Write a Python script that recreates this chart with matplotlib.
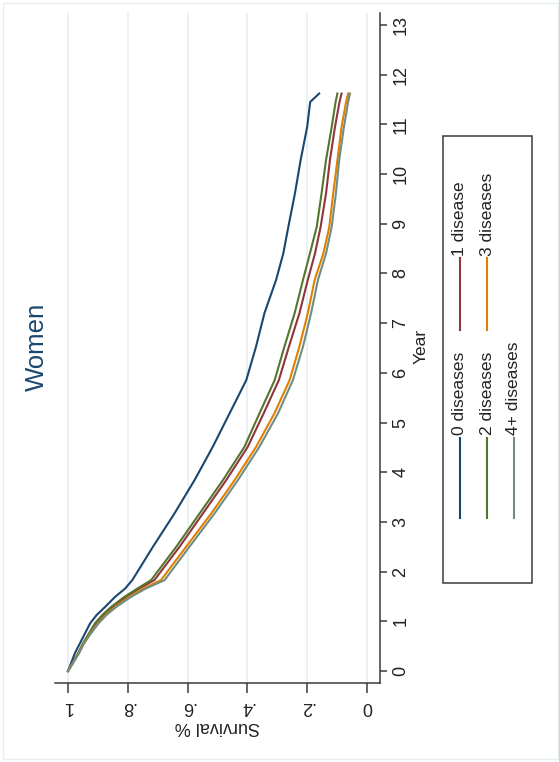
import matplotlib
matplotlib.use("Agg")
import matplotlib.pyplot as plt
from matplotlib.patches import Rectangle
from matplotlib.lines import Line2D

plt.rcParams["font.family"] = ["Liberation Sans", "DejaVu Sans"]

# Kaplan-Meier survival estimates by number of chronic diseases
years = [0, 0.36, 0.56, 0.76, 0.96, 1.13, 1.29, 1.49, 1.66, 1.83, 2.50, 3.17, 3.84, 4.51,
         5.18, 5.85, 6.53, 7.20, 7.87, 8.40, 8.94, 9.61, 10.28, 10.95, 11.45, 11.62]
surv_0 = [1.0, 0.977, 0.960, 0.943, 0.926, 0.904, 0.876, 0.843, 0.809, 0.785, 0.716, 0.644,
          0.577, 0.516, 0.460, 0.404, 0.371, 0.343, 0.304, 0.280, 0.263, 0.241, 0.222,
          0.200, 0.190, 0.160]
surv_1 = [1.0, 0.965, 0.948, 0.927, 0.905, 0.880, 0.850, 0.806, 0.762, 0.711, 0.627, 0.549,
          0.471, 0.399, 0.346, 0.295, 0.261, 0.226, 0.198, 0.174, 0.155, 0.137, 0.124,
          0.107, 0.092, 0.085]
surv_2 = [1.0, 0.966, 0.950, 0.930, 0.910, 0.885, 0.856, 0.812, 0.768, 0.722, 0.638, 0.560,
          0.482, 0.410, 0.360, 0.309, 0.276, 0.242, 0.214, 0.191, 0.168, 0.152, 0.137,
          0.118, 0.105, 0.099]
surv_3 = [1.0, 0.964, 0.947, 0.925, 0.900, 0.874, 0.843, 0.796, 0.748, 0.689, 0.605, 0.521,
          0.443, 0.371, 0.310, 0.259, 0.226, 0.198, 0.175, 0.146, 0.126, 0.113, 0.099,
          0.085, 0.070, 0.063]
surv_4 = [1.0, 0.963, 0.946, 0.923, 0.898, 0.871, 0.839, 0.790, 0.740, 0.677, 0.594, 0.510,
          0.432, 0.360, 0.298, 0.248, 0.214, 0.187, 0.164, 0.137, 0.118, 0.104, 0.093,
          0.077, 0.063, 0.057]

labels = ["0 diseases", "1 disease", "2 diseases", "3 diseases", "4+ diseases"]
colors = ["#1a476f", "#90353b", "#55752f", "#e37e00", "#6e8e84"]
series = [surv_0, surv_1, surv_2, surv_3, surv_4]

surv_ticks = [1, 0.8, 0.6, 0.4, 0.2, 0]
surv_ticklabels = ["1", ".8", ".6", ".4", ".2", "0"]
year_ticks = list(range(0, 14))

W, H = 559, 762
fig = plt.figure(figsize=(W / 100, H / 100), dpi=100)
fig.patch.set_facecolor("white")


def fx(px):
    return px / W


def fy(py):
    return 1 - py / H


# faint outer frame of the graph region
fig.patches.append(Rectangle((fx(2.5), fy(758.5)), fx(555.5), (756 / H),
                             transform=fig.transFigure, fill=False,
                             edgecolor="#e6eef0", lw=1.0))

ax = fig.add_axes([fx(55), fy(683), fx(380 - 55), (683 - 13) / H])
ax.set_facecolor("white")

for s, c, lab in zip(series, colors, labels):
    ax.plot(s, years, color=c, lw=1.5, label=lab, solid_joinstyle="round")

ax.set_xlim(1.0435, -0.0435)
ax.set_ylim(-0.24, 13.24)

for g in surv_ticks:
    ax.axvline(g, color="#e3eef1", lw=1.1, zorder=0)

for side in ["top", "left"]:
    ax.spines[side].set_visible(False)
for side in ["bottom", "right"]:
    ax.spines[side].set_color("#3a3a3a")
    ax.spines[side].set_linewidth(1.1)

ax.set_xticks(surv_ticks)
ax.set_xticklabels(surv_ticklabels, rotation=180, fontsize=13, color="#222222")
ax.tick_params(axis="x", length=7, width=1.1, color="#3a3a3a", pad=4)

ax.yaxis.tick_right()
ax.set_yticks(year_ticks)
ax.set_yticklabels([str(y) for y in year_ticks], rotation=90, fontsize=13,
                   color="#222222", va="center")
ax.tick_params(axis="y", length=5, width=1.1, color="#3a3a3a", pad=4)

# axis titles and heading
fig.text(fx(217), fy(727), "Survival %", rotation=180, ha="center", va="center",
         fontsize=13, color="#222222")
fig.text(fx(421), fy(346), "Year", rotation=90, ha="center", va="center",
         fontsize=12.5, color="#222222")
fig.text(fx(37), fy(347), "Women", rotation=90, ha="center", va="center",
         fontsize=18.5, color="#1a476f")

# legend box, entries laid out in rotated rows
fig.patches.append(Rectangle((fx(443), fy(583)), fx(532 - 443), (583 - 136) / H,
                             transform=fig.transFigure, fill=True, facecolor="white",
                             edgecolor="#3a3a3a", lw=1.1))
slots = [(460, 518, 438, 435), (460, 330, 258, 256),
         (487, 518, 438, 435), (487, 330, 258, 256),
         (514, 518, 438, 435)]
for (x, y0, y1, yt), c, lab in zip(slots, colors, labels):
    fig.lines.append(Line2D([fx(x), fx(x)], [fy(y0), fy(y1)], transform=fig.transFigure,
                            color=c, lw=1.5))
    fig.text(fx(x), fy(yt), lab, rotation=90, ha="left", va="center",
             fontsize=12.5, color="#222222", rotation_mode="anchor")

fig.savefig("out.png", dpi=100, facecolor="white")
